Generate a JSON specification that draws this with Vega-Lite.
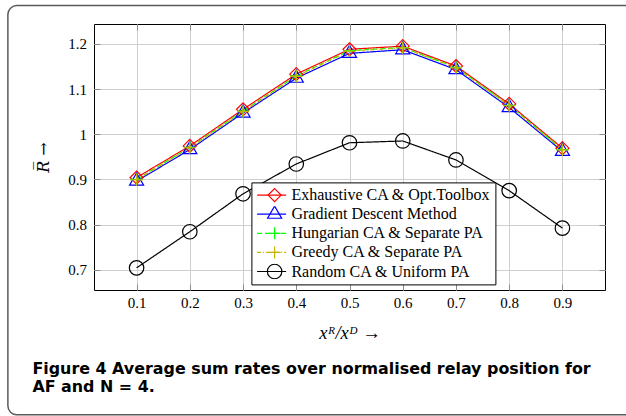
{
  "$schema": "https://vega.github.io/schema/vega-lite/v6.json",
  "width": 511,
  "height": 266,
  "autosize": "none",
  "padding": {"left": 94, "top": 24, "right": 21, "bottom": 126},
  "background": "white",
  "config": {
    "view": {"stroke": "#000000", "strokeWidth": 1}
  },
  "title": {
    "text": ["Figure 4 Average sum rates over normalised relay position for", "AF and N = 4."],
    "orient": "bottom",
    "anchor": "start",
    "frame": "group",
    "dx": -61.6,
    "offset": -55,
    "font": "DejaVu Sans",
    "fontSize": 15.9,
    "fontWeight": "bold",
    "lineHeight": 18.7,
    "color": "#000000"
  },
  "data": {
    "values": [
      {"x": 0.1, "R": 0.904, "series": "Exhaustive CA & Opt.Toolbox"},
      {"x": 0.2, "R": 0.974, "series": "Exhaustive CA & Opt.Toolbox"},
      {"x": 0.3, "R": 1.055, "series": "Exhaustive CA & Opt.Toolbox"},
      {"x": 0.4, "R": 1.133, "series": "Exhaustive CA & Opt.Toolbox"},
      {"x": 0.5, "R": 1.188, "series": "Exhaustive CA & Opt.Toolbox"},
      {"x": 0.6, "R": 1.195, "series": "Exhaustive CA & Opt.Toolbox"},
      {"x": 0.7, "R": 1.151, "series": "Exhaustive CA & Opt.Toolbox"},
      {"x": 0.8, "R": 1.067, "series": "Exhaustive CA & Opt.Toolbox"},
      {"x": 0.9, "R": 0.969, "series": "Exhaustive CA & Opt.Toolbox"},
      {"x": 0.1, "R": 0.896, "series": "Gradient Descent Method"},
      {"x": 0.2, "R": 0.966, "series": "Gradient Descent Method"},
      {"x": 0.3, "R": 1.047, "series": "Gradient Descent Method"},
      {"x": 0.4, "R": 1.124, "series": "Gradient Descent Method"},
      {"x": 0.5, "R": 1.179, "series": "Gradient Descent Method"},
      {"x": 0.6, "R": 1.187, "series": "Gradient Descent Method"},
      {"x": 0.7, "R": 1.143, "series": "Gradient Descent Method"},
      {"x": 0.8, "R": 1.059, "series": "Gradient Descent Method"},
      {"x": 0.9, "R": 0.962, "series": "Gradient Descent Method"},
      {"x": 0.1, "R": 0.900, "series": "Hungarian CA & Separate PA"},
      {"x": 0.2, "R": 0.971, "series": "Hungarian CA & Separate PA"},
      {"x": 0.3, "R": 1.051, "series": "Hungarian CA & Separate PA"},
      {"x": 0.4, "R": 1.129, "series": "Hungarian CA & Separate PA"},
      {"x": 0.5, "R": 1.185, "series": "Hungarian CA & Separate PA"},
      {"x": 0.6, "R": 1.192, "series": "Hungarian CA & Separate PA"},
      {"x": 0.7, "R": 1.148, "series": "Hungarian CA & Separate PA"},
      {"x": 0.8, "R": 1.064, "series": "Hungarian CA & Separate PA"},
      {"x": 0.9, "R": 0.966, "series": "Hungarian CA & Separate PA"},
      {"x": 0.1, "R": 0.899, "series": "Greedy CA & Separate PA"},
      {"x": 0.2, "R": 0.970, "series": "Greedy CA & Separate PA"},
      {"x": 0.3, "R": 1.050, "series": "Greedy CA & Separate PA"},
      {"x": 0.4, "R": 1.128, "series": "Greedy CA & Separate PA"},
      {"x": 0.5, "R": 1.184, "series": "Greedy CA & Separate PA"},
      {"x": 0.6, "R": 1.191, "series": "Greedy CA & Separate PA"},
      {"x": 0.7, "R": 1.147, "series": "Greedy CA & Separate PA"},
      {"x": 0.8, "R": 1.063, "series": "Greedy CA & Separate PA"},
      {"x": 0.9, "R": 0.965, "series": "Greedy CA & Separate PA"},
      {"x": 0.1, "R": 0.704, "series": "Random CA & Uniform PA"},
      {"x": 0.2, "R": 0.784, "series": "Random CA & Uniform PA"},
      {"x": 0.3, "R": 0.868, "series": "Random CA & Uniform PA"},
      {"x": 0.4, "R": 0.934, "series": "Random CA & Uniform PA"},
      {"x": 0.5, "R": 0.981, "series": "Random CA & Uniform PA"},
      {"x": 0.6, "R": 0.985, "series": "Random CA & Uniform PA"},
      {"x": 0.7, "R": 0.943, "series": "Random CA & Uniform PA"},
      {"x": 0.8, "R": 0.875, "series": "Random CA & Uniform PA"},
      {"x": 0.9, "R": 0.792, "series": "Random CA & Uniform PA"}
    ]
  },
  "layer": [
    {
      "data": {"values": [{"frame": 1}]},
      "mark": {"type": "rect", "fill": null, "fillOpacity": 0, "stroke": "#5a5a5a", "strokeWidth": 1.5, "cornerRadius": 9},
      "encoding": {
        "x": {"datum": -0.1418, "type": "quantitative", "scale": {"domain": [0.02, 0.98], "nice": false, "zero": false}, "axis": null},
        "x2": {"datum": 1.2},
        "y": {"datum": 1.2847, "type": "quantitative", "scale": {"domain": [0.655, 1.244], "nice": false, "zero": false}, "axis": null},
        "y2": {"datum": 0.3785}
      }
    },
    {
      "mark": {"type": "line", "strokeWidth": 1.2},
      "encoding": {
        "x": {
          "field": "x", "type": "quantitative",
          "scale": {"domain": [0.02, 0.98], "nice": false, "zero": false},
          "axis": {
            "orient": "bottom",
            "values": [0.1, 0.2, 0.3, 0.4, 0.5, 0.6, 0.7, 0.8, 0.9],
            "format": ".1f",
            "grid": true, "gridColor": "#cfcfcf", "gridWidth": 1,
            "ticks": true, "tickSize": -6, "tickColor": "#8c8c8c", "tickWidth": 1,
            "domain": false,
            "labelFont": "Liberation Serif", "labelFontSize": 15, "labelColor": "#000000", "labelPadding": 11.3,
            "title": "xᴿ/xᴰ →",
            "titleFont": "Liberation Serif", "titleFontSize": 18.5, "titleFontStyle": "italic", "titleFontWeight": "normal", "titleColor": "#000000", "titlePadding": 13
          }
        },
        "y": {
          "field": "R", "type": "quantitative",
          "scale": {"domain": [0.655, 1.244], "nice": false, "zero": false},
          "axis": {
            "orient": "left",
            "values": [0.7, 0.8, 0.9, 1.0, 1.1, 1.2],
            "labelExpr": "datum.value == 1 ? '1' : format(datum.value, '.1f')",
            "grid": true, "gridColor": "#cfcfcf", "gridWidth": 1,
            "ticks": true, "tickSize": -6, "tickColor": "#8c8c8c", "tickWidth": 1,
            "domain": false,
            "labelFont": "Liberation Serif", "labelFontSize": 15, "labelColor": "#000000", "labelPadding": 13.6,
            "title": "R̅ →",
            "titleFont": "DejaVu Serif", "titleFontSize": 16, "titleFontStyle": "italic", "titleFontWeight": "normal", "titleColor": "#000000", "titlePadding": 16
          }
        },
        "color": {
          "field": "series", "type": "nominal",
          "scale": {
            "domain": ["Exhaustive CA & Opt.Toolbox", "Gradient Descent Method", "Hungarian CA & Separate PA", "Greedy CA & Separate PA", "Random CA & Uniform PA"],
            "range": ["#ff0000", "#0000ff", "#00ff00", "#c8b400", "#000000"]
          },
          "legend": {
            "orient": "none", "legendX": 157.4, "legendY": 158.4, "title": null,
            "symbolType": "stroke", "symbolSize": 841, "symbolStrokeWidth": 1.2,
            "labelFont": "Liberation Serif", "labelFontSize": 16, "labelColor": "#000000", "labelOffset": 4.3, "labelLimit": 400,
            "padding": 4.7, "rowPadding": 3.1, "clipHeight": 16,
            "strokeColor": "#000000", "fillColor": "#ffffff", "zindex": 0
          }
        },
        "strokeDash": {
          "field": "series", "type": "nominal",
          "scale": {
            "domain": ["Exhaustive CA & Opt.Toolbox", "Gradient Descent Method", "Hungarian CA & Separate PA", "Greedy CA & Separate PA", "Random CA & Uniform PA"],
            "range": [[1, 0], [1, 0], [5, 3], [4, 2, 1, 2], [1, 0]]
          },
          "legend": {
            "orient": "none", "legendX": 157.4, "legendY": 158.4, "title": null,
            "symbolType": "stroke", "symbolSize": 841, "symbolStrokeWidth": 1.2,
            "labelFont": "Liberation Serif", "labelFontSize": 16, "labelColor": "#000000", "labelOffset": 4.3, "labelLimit": 400,
            "padding": 4.7, "rowPadding": 3.1, "clipHeight": 16,
            "strokeColor": "#000000", "fillColor": "#ffffff", "zindex": 0
          }
        }
      }
    },
    {
      "mark": {"type": "point", "filled": false, "size": 210, "strokeWidth": 1.2, "opacity": 1},
      "encoding": {
        "x": {
          "field": "x", "type": "quantitative",
          "scale": {"domain": [0.02, 0.98], "nice": false, "zero": false},
          "axis": {
            "orient": "top",
            "values": [0.1, 0.2, 0.3, 0.4, 0.5, 0.6, 0.7, 0.8, 0.9],
            "grid": false, "labels": false, "domain": false,
            "ticks": true, "tickSize": -6, "tickColor": "#8c8c8c", "tickWidth": 1,
            "title": null
          }
        },
        "y": {
          "field": "R", "type": "quantitative",
          "scale": {"domain": [0.655, 1.244], "nice": false, "zero": false},
          "axis": {
            "orient": "right",
            "values": [0.7, 0.8, 0.9, 1.0, 1.1, 1.2],
            "grid": false, "labels": false, "domain": false,
            "ticks": true, "tickSize": -6, "tickColor": "#8c8c8c", "tickWidth": 1,
            "title": null
          }
        },
        "color": {
          "field": "series", "type": "nominal",
          "scale": {
            "domain": ["Exhaustive CA & Opt.Toolbox", "Gradient Descent Method", "Hungarian CA & Separate PA", "Greedy CA & Separate PA", "Random CA & Uniform PA"],
            "range": ["#ff0000", "#0000ff", "#00ff00", "#c8b400", "#000000"]
          },
          "legend": {
            "orient": "none", "legendX": 167.9, "legendY": 158.4, "title": null,
            "symbolSize": 210, "symbolStrokeWidth": 1.2, "symbolFillColor": "transparent",
            "labelFont": "Liberation Serif", "labelFontSize": 16, "labelExpr": "''", "labelOffset": 4.3,
            "padding": 4.7, "rowPadding": 3.1, "clipHeight": 16, "zindex": 1
          }
        },
        "shape": {
          "field": "series", "type": "nominal",
          "scale": {
            "domain": ["Exhaustive CA & Opt.Toolbox", "Gradient Descent Method", "Hungarian CA & Separate PA", "Greedy CA & Separate PA", "Random CA & Uniform PA"],
            "range": [
              "M0,-0.9L0.9,0L0,0.9L-0.9,0Z",
              "M0,-1.12L0.97,0.56L-0.97,0.56Z",
              "M-0.83,0L0.83,0M0,-0.83L0,0.83",
              "M-0.83,0L0.83,0M0,-0.83L0,0.83",
              "M1,0A1,1,0,1,1,-1,0A1,1,0,1,1,1,0Z"
            ]
          },
          "legend": {
            "orient": "none", "legendX": 167.9, "legendY": 158.4, "title": null,
            "symbolSize": 210, "symbolStrokeWidth": 1.2, "symbolFillColor": "transparent",
            "labelFont": "Liberation Serif", "labelFontSize": 16, "labelExpr": "''", "labelOffset": 4.3,
            "padding": 4.7, "rowPadding": 3.1, "clipHeight": 16, "zindex": 1
          }
        }
      }
    }
  ],
  "resolve": {
    "scale": {"color": "independent", "shape": "independent", "strokeDash": "independent"},
    "axis": {"x": "independent", "y": "independent"}
  }
}
